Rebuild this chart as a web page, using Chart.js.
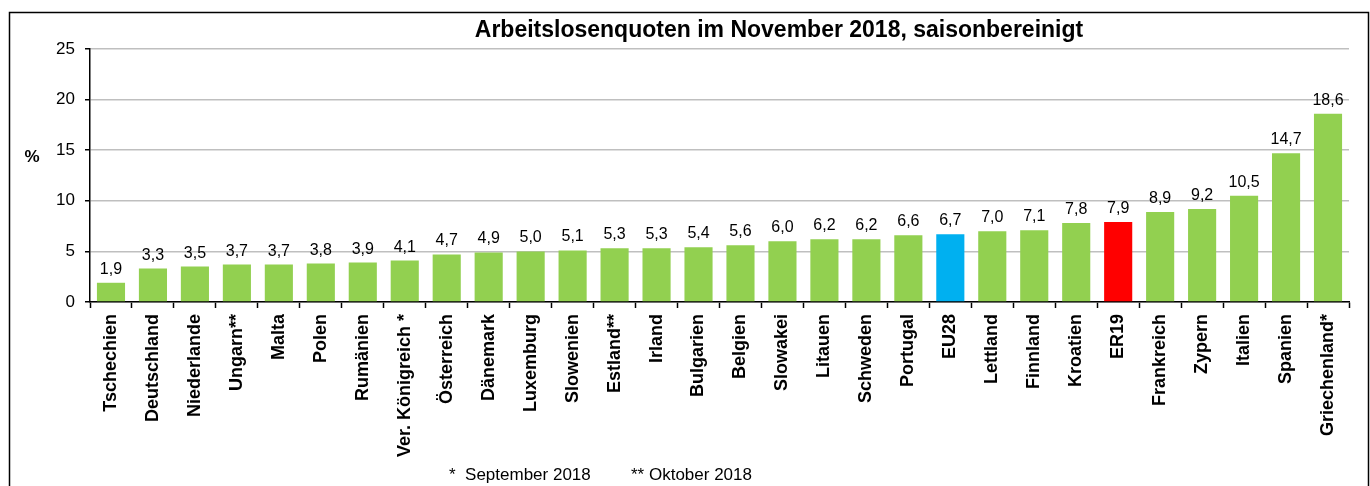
<!DOCTYPE html>
<html>
<head>
<meta charset="utf-8">
<script src="https://cdn.jsdelivr.net/npm/chart.js@4"></script>
<style>
  body { margin: 0; background: #fff; }
  #wrap { width: 1370px; height: 486px; position: relative; }
</style>
</head>
<body>
<div id="wrap"><canvas id="quoten" width="1370" height="486"></canvas></div>
<script>
const laender = ["Tschechien", "Deutschland", "Niederlande", "Ungarn**", "Malta", "Polen", "Rumänien",
  "Ver. Königreich *", "Österreich", "Dänemark", "Luxemburg", "Slowenien", "Estland**", "Irland",
  "Bulgarien", "Belgien", "Slowakei", "Litauen", "Schweden", "Portugal", "EU28", "Lettland",
  "Finnland", "Kroatien", "ER19", "Frankreich", "Zypern", "Italien", "Spanien", "Griechenland*"];
const quoten = [1.9, 3.3, 3.5, 3.7, 3.7, 3.8, 3.9, 4.1, 4.7, 4.9, 5.0, 5.1, 5.3, 5.3, 5.4, 5.6,
  6.0, 6.2, 6.2, 6.6, 6.7, 7.0, 7.1, 7.8, 7.9, 8.9, 9.2, 10.5, 14.7, 18.6];
const yTicks = [0, 5, 10, 15, 20, 25];
const titel = "Arbeitslosenquoten im November 2018, saisonbereinigt";
const fussnoten = ["*  September 2018", "** Oktober 2018"];

const farben = laender.map(l => l === "EU28" ? "#00b0f0" : (l === "ER19" ? "#ff0000" : "#92d050"));
const FONT = "'Liberation Sans', Arial, sans-serif";

// titel, %-zeichen, fussnoten, rahmen und werte
const extras = {
  id: "extras",
  afterDraw(chart) {
    const ctx = chart.ctx;
    ctx.save();
    ctx.strokeStyle = "#000";
    ctx.lineWidth = 1.5;
    ctx.strokeRect(9.5, 12.5, 1359, 520);

    ctx.fillStyle = "#000";
    ctx.textAlign = "center";
    ctx.textBaseline = "middle";
    ctx.font = "bold 23px " + FONT;
    ctx.fillText(titel, 779, 31);

    ctx.font = "bold 17px " + FONT;
    ctx.fillText("%", 32, 157);

    ctx.font = "17px " + FONT;
    ctx.textAlign = "left";
    ctx.fillText(fussnoten[0], 449, 475);
    ctx.fillText(fussnoten[1], 631, 475);

    // werte ueber den balken
    ctx.font = "16px " + FONT;
    ctx.textAlign = "center";
    ctx.textBaseline = "alphabetic";
    const meta = chart.getDatasetMeta(0);
    meta.data.forEach((bar, i) => {
      ctx.fillText(quoten[i].toFixed(1).replace(".", ","), bar.x, bar.y - 9);
    });
    ctx.restore();
  }
};

new Chart(document.getElementById("quoten"), {
  type: "bar",
  data: {
    labels: laender,
    datasets: [{
      data: quoten,
      backgroundColor: farben,
      barPercentage: 0.67,
      categoryPercentage: 1
    }]
  },
  options: {
    responsive: false,
    animation: false,
    layout: { padding: { top: 49, right: 21, left: 0, bottom: 0 } },
    plugins: { legend: { display: false }, tooltip: { enabled: false }, title: { display: false } },
    scales: {
      x: {
        afterFit(s) { s.height = 184; },
        grid: { offset: true, drawOnChartArea: false, drawTicks: true, tickLength: 6, tickColor: "#000", tickWidth: 1.5 },
        border: { color: "#000", width: 1.5 },
        ticks: {
          autoSkip: false, maxRotation: 90, minRotation: 90, padding: 6,
          color: "#000", font: { family: FONT, size: 18, weight: "bold" }
        }
      },
      y: {
        min: 0, max: 25,
        afterFit(s) { s.width = 90; },
        afterBuildTicks(s) { s.ticks = yTicks.map(v => ({ value: v })); },
        grid: { color: "#bfbfbf", lineWidth: 1.5, drawTicks: true, tickLength: 5, tickColor: "#000" },
        border: { color: "#000", width: 1.5 },
        ticks: { padding: 10, color: "#000", font: { family: FONT, size: 17 } }
      }
    }
  },
  plugins: [extras]
});
</script>
</body>
</html>
